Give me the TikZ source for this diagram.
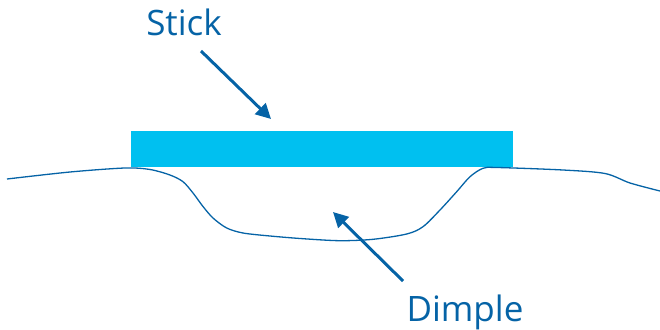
\documentclass[tikz,border=0pt]{standalone}
\usepackage{fontspec}
\setmainfont{Open Sans}
\usetikzlibrary{arrows.meta}
\definecolor{stickblue}{RGB}{0,192,240}
\definecolor{inkblue}{RGB}{5,99,166}
\tikzset{
  pointer/.style={draw=inkblue, line width=3pt, -{Triangle[length=15pt,width=15pt]}},
  label/.style={text=inkblue, font=\fontsize{35}{40}\selectfont, inner sep=0pt},
  surface/.style={draw=inkblue, line width=1.3pt},
}
\begin{document}
\begin{tikzpicture}[x=1pt,y=-1pt]
  \useasboundingbox (0,0) rectangle (660,329);
  % the stick lying on the surface
  \fill[stickblue] (131,131) rectangle (513,167);
  % surface profile with the dimple under the stick
  \draw[surface] plot[smooth, tension=0.5] coordinates {
    (7,179) (70,172) (125,168) (150,169.5) (170,175) (183,181.7)
    (193,193) (203,206.5) (213,218) (226.7,228) (243,233) (270,236)
    (303,238.7) (340,240.7) (373,239.3) (406.7,234) (423,226.7)
    (440,210) (456.7,191.7) (470,176.7) (483,168.3) (497,167.5)
    (563,170) (605,173.5) (630,183) (660,191)};
  % labels
  \node[label, anchor=base] (stick) at (184,36) {Stick};
  \node[label, anchor=base] (dimple) at (465,321) {Dimple};
  \coordinate (sticktail) at (201,51);
  \coordinate (sticktip) at (271,119);
  \coordinate (dimpletail) at (403,281);
  \coordinate (dimpletip) at (333,212);
  \draw[pointer] (sticktail) -- (sticktip);
  \draw[pointer] (dimpletail) -- (dimpletip);
\end{tikzpicture}
\end{document}
